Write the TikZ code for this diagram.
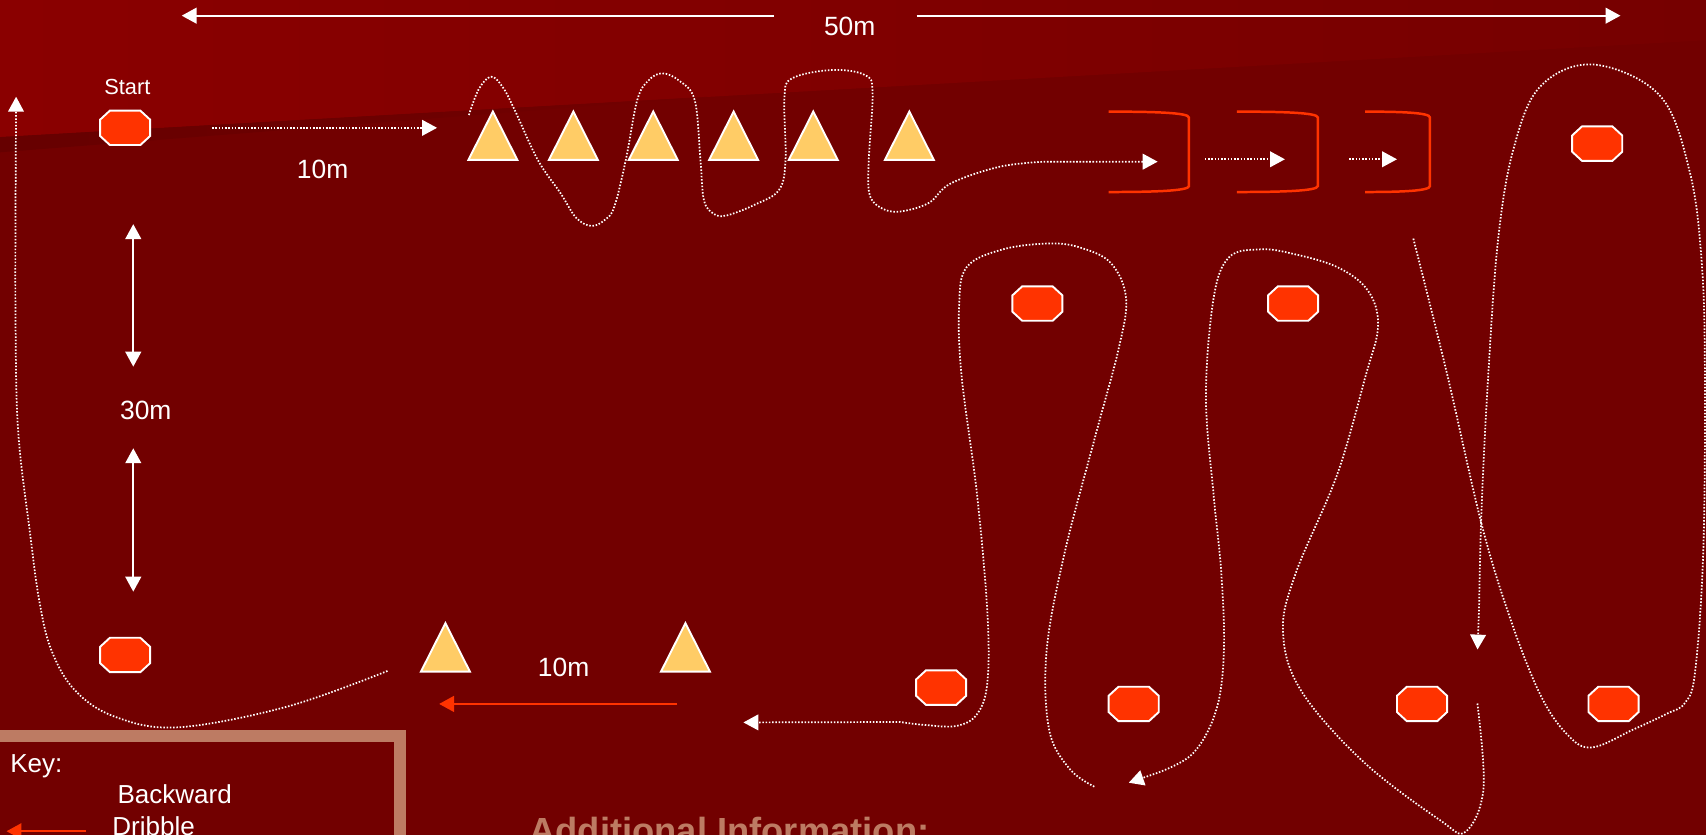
\documentclass[tikz,border=0pt]{standalone}
\usepackage{fontspec}
\setmainfont{Liberation Sans}
\usetikzlibrary{arrows.meta}

\definecolor{pitchbg}{HTML}{720000}
\definecolor{pitchtop}{HTML}{8A0000}
\definecolor{pitchtopright}{HTML}{760000}
\definecolor{pitchband}{HTML}{660000}
\definecolor{markred}{HTML}{FF3300}
\definecolor{conefill}{HTML}{FFCC66}
\definecolor{keytan}{HTML}{BD7B63}

\tikzset{
  >={Triangle[length=3.9pt,width=4.1pt]},
  dimline/.style={white, line width=0.55pt},
  runline/.style={white, line width=0.45pt, dash pattern=on 0.4pt off 0.45pt},
  dribble/.style={markred, line width=0.6pt},
  gate/.style={markred, line width=0.65pt},
  flat/.style={fill=markred, draw=white, line width=0.5pt},
  conebody/.style={fill=conefill, draw=white, line width=0.5pt},
  lbl/.style={text=white, inner sep=0pt, font=\fontsize{6.9}{8}\selectfont},
  keylbl/.style={text=white, inner sep=0pt, font=\fontsize{6.8}{8}\selectfont},
}

\newcommand{\flatmarker}[2]{\draw[flat, shift={(#1,#2)}] (-14,-15.8) -- (14,-15.8) -- (23,-7.5) -- (23,7.5) -- (14,15.8) -- (-14,15.8) -- (-23,7.5) -- (-23,-7.5) -- cycle;}
\newcommand{\conemarker}[2]{\draw[conebody, shift={(#1,#2)}] (-22.5,0) -- (0,-44.5) -- (22.5,0) -- cycle;}
\newcommand{\gatemark}[2]{\draw[gate] (#1,102.6) .. controls ({#1+0.55*(#2-#1)},102.6) and (#2,103.5) .. (#2,108) -- (#2,171) .. controls (#2,175.5) and ({#1+0.55*(#2-#1)},176.5) .. (#1,176.5);}

\begin{document}
\begin{tikzpicture}[x=0.01cm, y=-0.01cm]
    \useasboundingbox (0,0) rectangle (1568,767);
    \clip (0,0) rectangle (1568,767);

    \fill[pitchbg] (0,0) rectangle (1568,767);
    \shade[left color=pitchtop, right color=pitchtopright] (0,0) -- (1568,0) -- (1568,37) -- (0,126) -- cycle;
    \shade[left color=pitchband, right color=pitchbg] (0,126) -- (650,89) -- (0,140) -- cycle;

    % distances
    \draw[dimline, ->] (711.6,14.4) -- (167,14.4);
    \draw[dimline, ->] (842.5,14.4) -- (1489.4,14.4);
    \node[lbl] at (781,24) {50m};
    \draw[dimline, <->] (122.5,206) -- (122.5,337);
    \draw[dimline, <->] (122.5,412) -- (122.5,543.8);
    \node[lbl] at (134,377) {30m};
    \node[lbl] at (296.5,156) {10m};
    \node[lbl] at (518,613) {10m};
    \node[text=white, inner sep=0pt, font=\fontsize{5.7}{7}\selectfont] at (117,80) {Start};

    % markers and cones
    \flatmarker{115}{117.5}
    \flatmarker{115}{602}
    \flatmarker{953.5}{279}
    \flatmarker{1188.5}{279}
    \flatmarker{1468}{132}
    \flatmarker{865}{632}
    \flatmarker{1042}{647}
    \flatmarker{1307}{647}
    \flatmarker{1483}{647}

    \conemarker{453}{147}
    \conemarker{527}{147}
    \conemarker{600.4}{147}
    \conemarker{674.3}{147}
    \conemarker{747.5}{147}
    \conemarker{835.8}{147}
    \conemarker{409.4}{617.3}
    \conemarker{630}{617.3}

    \gatemark{1019}{1092.8}
    \gatemark{1136.8}{1211.3}
    \gatemark{1254.8}{1314.3}

    % running lines
    \draw[runline, ->] (195,117.5) -- (401.7,117.5);
    \draw[runline, ->] plot[smooth, tension=0.6] coordinates {(431,105.7) (440,82) (451.3,70.5) (462,80) (473,101) (494.3,147) (515.3,177.7) (529.4,200) (543.6,207.7) (556,202) (564.6,190) (575.2,147) (585.7,92) (596,74) (608.6,67.4) (624,74) (638.5,92) (643.8,147) (647,184) (656,196.5) (668,198) (694,188) (716,174.6) (722,147) (721,90) (728,72) (765,64.3) (795,69) (802,85) (798.5,147) (799,177.7) (808,190) (825,194.6) (853,186.9) (874,168.5) (919,153.2) (960.5,148.6)} -- (1064,148.6);
    \draw[runline, ->] (1107.4,146.4) -- (1181,146.4);
    \draw[runline, ->] (1240,146.4) -- (1284,146.4);
    \draw[runline, ->] plot[smooth, tension=0.6] coordinates {(1299,219.3) (1329.7,342.4) (1361.8,481.9) (1387.9,568) (1415.4,637.9) (1440,674.6) (1463,687) (1501,670.6) (1532,656) (1548.7,646) (1558,617.3) (1565.5,506.4) (1567,342.4) (1564,240) (1553,157.7) (1525.7,88) (1464.4,59.3) (1415.4,79.8) (1391,137.2) (1377,219.3) (1368,342.4) (1361.8,465.4) (1359.4,560)} -- (1358,597);
    \draw[runline, ->] plot[smooth, tension=0.6] coordinates {(1357.9,646.6) (1363.5,724.8) (1347,764.5) (1323.3,753.7) (1252.5,699.6) (1195.8,634.7) (1179.2,580.7) (1191,526.6) (1228.9,436.5) (1254.9,346.4) (1266.6,299.5) (1257.2,267) (1228.9,245.4) (1186.3,232.8) (1158,229.2) (1129.6,236.5) (1115.4,274.3) (1108.4,364.4) (1115.4,454.5) (1122.5,526.6) (1124.9,598.7) (1117.8,652.7) (1096.5,692.4) (1063.4,710.5)} -- (1037.5,719.4);
    \draw[runline, ->] plot[smooth, tension=0.6] coordinates {(1005.8,723) (983.2,706.8) (964.3,670.8) (961.9,598.7) (978.4,508.6) (1006.8,400.5) (1028,321.2) (1035,274.3) (1021,241.8) (992.7,227.5) (964.2,223.8) (921.7,229.2) (888.6,245.4) (881.5,281.5) (883.9,346.4) (898,454.5) (907.5,562.7) (907.5,627.5) (898,656.4) (879.2,667.2) (850.8,666.4) (827.2,663.6)} -- (683.3,664);
    \draw[runline, ->] plot[smooth, tension=0.6] coordinates {(356.1,616.7) (263.8,649.5) (163.6,668.5) (105.5,658.7) (68.6,634.2) (47,597) (36,551.5) (27.6,490) (16.8,398) (14.3,300) (14.3,183.8)} -- (14.8,88.9);

    \draw[dribble, ->] (622.6,647) -- (403.6,647);

    % key
    \draw[keytan, line width=3.1pt] (-20,676.5) -- (367.5,676.5) -- (367.5,820);
    \node[keylbl, anchor=base west] at (8.8,709.6) {Key:};
    \node[keylbl, anchor=base west] at (107.3,738.5) {Backward};
    \node[keylbl, anchor=base west] at (102.6,767.7) {Dribble};
    \draw[dribble, ->] (79,764) -- (6,764);
    \node[text=keytan, inner sep=0pt, anchor=base west, font=\fontsize{9.5}{11}\bfseries] at (486,775) {Additional Information:};
\end{tikzpicture}
\end{document}
